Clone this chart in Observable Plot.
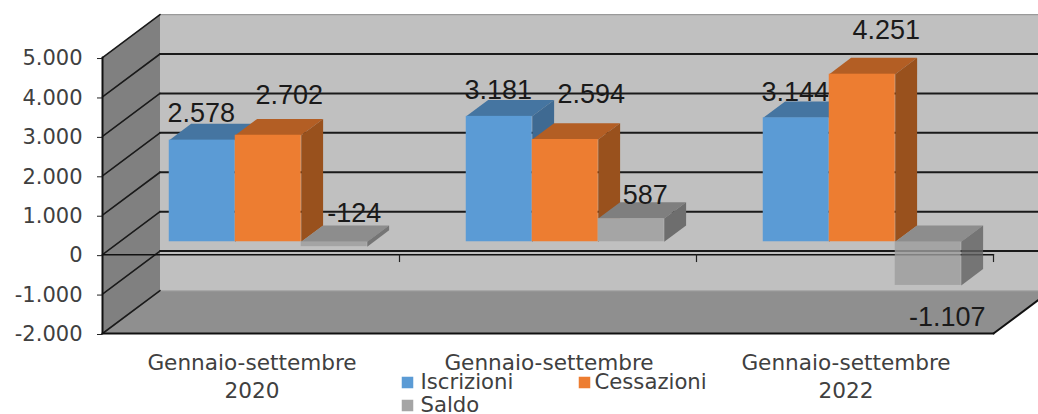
<!DOCTYPE html>
<html>
<head>
<meta charset="utf-8">
<style>html,body{margin:0;padding:0;background:#fff;overflow:hidden}</style>
<script src="https://cdn.jsdelivr.net/npm/d3@7"></script>
<script src="https://cdn.jsdelivr.net/npm/@observablehq/plot@0.6"></script>
</head>
<body>
<div id="chart"></div>
<script>
// ---- data ----
const categories = ["Gennaio-settembre\n2020", "Gennaio-settembre", "Gennaio-settembre\n2022"];
const iscrizioni = [2578, 3181, 3144];
const cessazioni = [2702, 2594, 4251];
const saldo = [-124, 587, -1107];
const seriesNames = ["Iscrizioni", "Cessazioni", "Saldo"];
const yTicks = [5000, 4000, 3000, 2000, 1000, 0, -1000, -2000];
const yTickLabels = ["5.000", "4.000", "3.000", "2.000", "1.000", "0", "-1.000", "-2.000"];

// ---- styles ----
const front = ["#5b9bd5", "#ed7d31", "#a5a5a5"];
const top_ = ["#4575a1", "#b35e24", "#7f7f7f"];
const side = ["#3f6a92", "#99511d", "#6e6e6e"];
// label nudges in pixels, per series (rows) and period (columns)
const nudges = [
  [[-1, -27], [-1, -26], [-1, -25]],
  [[21, -40], [26, -45], [24, -44]],
  [[20, -28], [14, -23], [19, 32]]
];

// ---- oblique 3D projection expressed in data units ----
const DEPTH_X = 0.1936, DEPTH_Y = 1090;
const P = (c, v, d = 0) => ({x: c + d * DEPTH_X, y: v + d * DEPTH_Y});
const poly = (pts, fill, extra = {}) => Plot.line(pts, {x: "x", y: "y", fill, stroke: "none", ...extra});
const seg = (a, b, stroke, strokeWidth) => Plot.line([a, b], {x: "x", y: "y", stroke, strokeWidth});

const XMAX = 3.3;
const BAR_W = 1 / 4.5, BAR_START = 1 / 6;
const D0 = 0.3, D1 = 0.68;

const marks = [];
// walls and floor
marks.push(poly([P(0, 5000, 1), P(XMAX, 5000, 1), P(XMAX, -2000, 1), P(0, -2000, 1)], "#c0c0c0"));
marks.push(poly([P(0, 5000), P(0, 5000, 1), P(0, -2000, 1), P(0, -2000)], "#808080"));
marks.push(poly([P(0, -2000), P(0, -2000, 1), P(3, -2000, 1), P(3, -2000)], "#8f8f8f"));
marks.push(seg(P(0, 5000, 1), P(XMAX, 5000, 1), "#9a9a9a", 1.2));
marks.push(seg(P(0, -2000, 1), P(XMAX, -2000, 1), "#a8a8a8", 1.2));
// gridlines on the back wall and the side wall
for (const t of yTicks) {
  if (t !== 5000 && t !== -2000) marks.push(seg(P(0, t, 1), P(XMAX, t, 1), "#1a1a1a", 2));
  marks.push(seg(P(0, t), P(0, t, 1), "#1a1a1a", 1.6));
}
// axes in the front plane
marks.push(seg(P(0, 5000), P(0, -2000), "#111", 2));
marks.push(seg(P(0, 0), P(3, 0), "#111", 1.5));
marks.push(seg(P(0, -2000), P(3, -2000), "#111", 2.2));
marks.push(seg(P(3, -2000), P(3, -2000, 1), "#111", 2));
marks.push(Plot.ruleX([1, 2, 3], {y1: 0, y2: -200, stroke: "#222", strokeWidth: 1.2}));

// bars, series by series so later bars hide earlier labels
const series = [iscrizioni, cessazioni, saldo];
const fmt = v => (v < 0 ? "-" : "") + d3.format(",")(Math.abs(v)).replace(/,/g, ".");
series.forEach((vals, s) => {
  vals.forEach((v, c) => {
    const a = c + BAR_START + s * BAR_W, b = a + BAR_W;
    const see = v < 0 && s === 2;
    const opts = {fillOpacity: see ? 0.8 : 1};
    const hi = Math.max(v, 0), lo = Math.min(v, 0);
    marks.push(poly([P(a, hi, D0), P(b, hi, D0), P(b, hi, D1), P(a, hi, D1)], top_[s], opts));
    marks.push(poly([P(b, hi, D0), P(b, hi, D1), P(b, lo, D1), P(b, lo, D0)], see ? "#626262" : side[s], opts));
    const f0 = P(a, lo, D0), f1 = P(b, hi, D0);
    marks.push(Plot.rect([{x1: f0.x, x2: f1.x, y1: f0.y, y2: f1.y}], {
      x1: "x1", x2: "x2", y1: "y1", y2: "y2", fill: see ? "#9c9c9c" : front[s], ...opts
    }));
    const anchor = P((a + b) / 2, v >= 0 ? v : lo, D0);
    const base = s === 2 && c === 0 ? P((a + b) / 2, 0, D0) : anchor;
    marks.push(Plot.text([fmt(v)], {
      x: () => base.x, y: () => base.y, text: d => d,
      dx: nudges[s][c][0], dy: nudges[s][c][1],
      fontFamily: "Liberation Sans", fontSize: 27, fill: "#1a1a1a", lineAnchor: "middle"
    }));
  });
});

// y axis and x axis labels
marks.push(Plot.axisY({
  ticks: yTicks, tickSize: 5, tickPadding: 15, stroke: "#222", label: null,
  tickFormat: t => yTickLabels[yTicks.indexOf(t)],
  fontFamily: "DejaVu Sans", fontSize: 21, fill: "#404040", dy: 1
}));
marks.push(Plot.axisX({
  ticks: [0.5, 1.5, 2.5], tickSize: 0, tickPadding: 17, label: null, lineHeight: 1.29,
  tickFormat: t => categories[t - 0.5],
  fontFamily: "DejaVu Sans", fontSize: 21.6, fill: "#404040", dx: 1
}));

// legend
const legendPos = [[407, 382, 420], [584, 382, 594], [407, 405, 420]];
seriesNames.forEach((name, i) => {
  const [sx, sy, tx] = legendPos[i];
  marks.push(Plot.dot([name], {
    frameAnchor: "top-left", dx: sx - 102, dy: sy, symbol: "square", r: 6.5, fill: front[i], stroke: "none"
  }));
  marks.push(Plot.text([name], {
    frameAnchor: "top-left", dx: tx - 102, dy: sy, text: d => d, textAnchor: "start", lineAnchor: "middle",
    fontFamily: "DejaVu Sans", fontSize: 21.2, fill: "#404040"
  }));
});

const chart = Plot.plot({
  width: 1038, height: 414,
  marginLeft: 102, marginRight: 0, marginTop: 0, marginBottom: 81,
  x: {domain: [0, 936 / 297], axis: null},
  y: {domain: [-2000, 6447], axis: null},
  style: {background: "#fff", fontFamily: "DejaVu Sans", overflow: "hidden"},
  marks
});
document.getElementById("chart").appendChild(chart);
</script>
</body>
</html>
